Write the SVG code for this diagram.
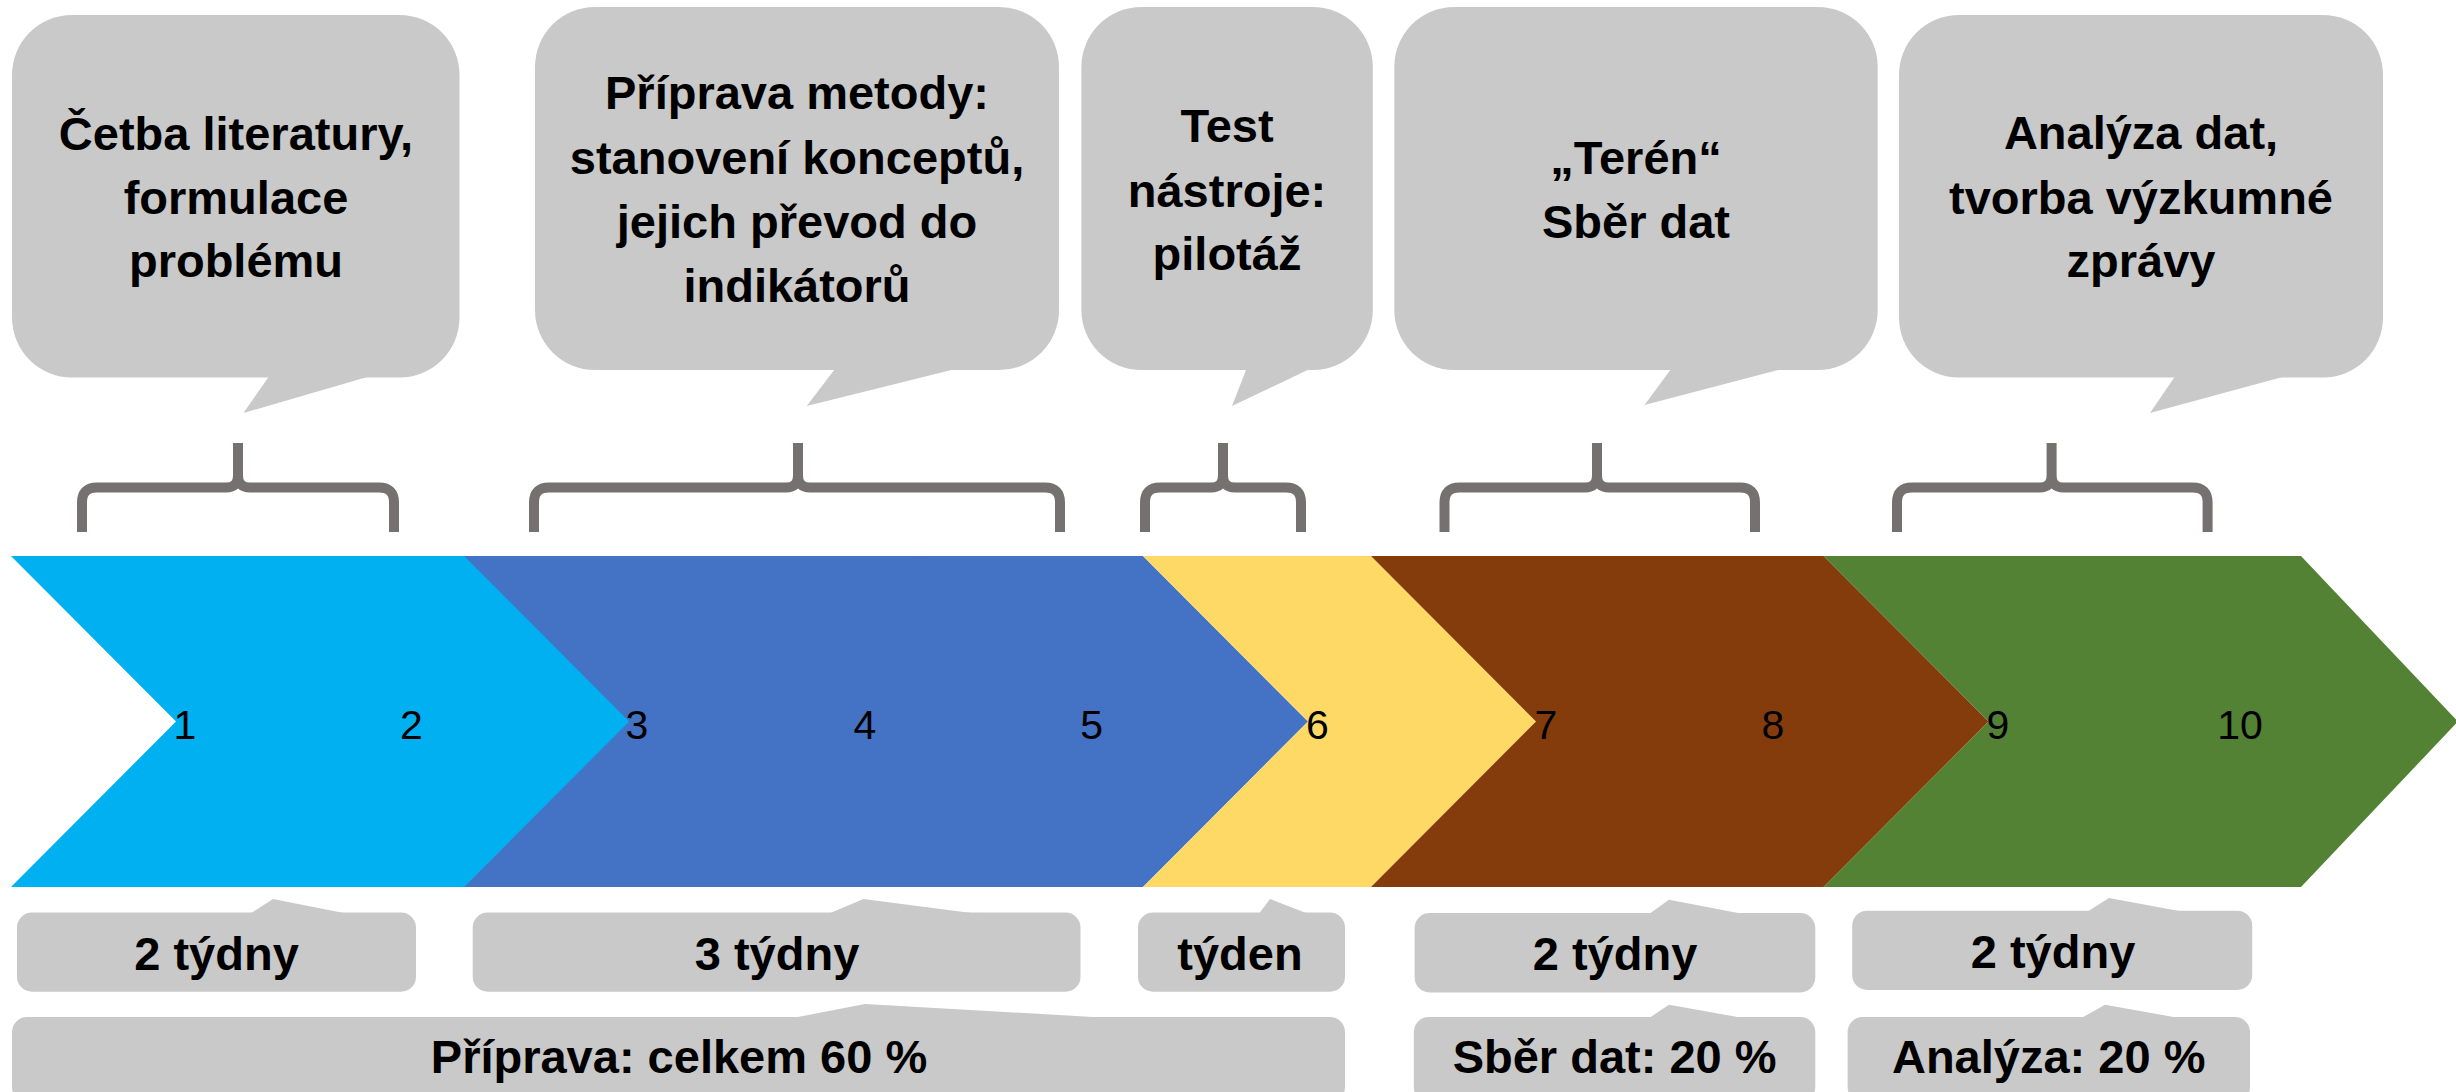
<svg xmlns="http://www.w3.org/2000/svg" width="2456" height="1092" viewBox="0 0 2456 1092">
<style>
.bub{fill:#C9C9C9}
.lbl{font-family:"Liberation Sans",Arial,sans-serif;font-weight:bold;font-size:47px;fill:#000;text-anchor:middle}
.num{font-family:"Liberation Sans",Arial,sans-serif;font-size:41px;fill:#000;text-anchor:middle}
.brace{fill:none;stroke:#767171;stroke-width:10;stroke-linejoin:round}
.c1{fill:#00B0F0}.c2{fill:#4472C4}.c3{fill:#FFD966}.c4{fill:#843C0C}.c5{fill:#548235}
</style>
<rect width="2456" height="1092" fill="#FFFFFF"/>

<!-- top bubbles -->
<g id="bubble1">
<rect class="bub" x="12" y="15" width="447.5" height="362.5" rx="60" ry="60"/>
<polygon class="bub" points="272,372 243.4,413 384.4,372"/>
<text class="lbl" x="236" y="150">Četba literatury,</text>
<text class="lbl" x="236" y="213.5">formulace</text>
<text class="lbl" x="236" y="277">problému</text>
</g>
<g id="bubble2">
<rect class="bub" x="535" y="7" width="524" height="363" rx="60" ry="60"/>
<polygon class="bub" points="838,365 806.7,406 971.6,365"/>
<text class="lbl" x="797" y="109">Příprava metody:</text>
<text class="lbl" x="797" y="174">stanovení konceptů,</text>
<text class="lbl" x="797" y="237.5">jejich převod do</text>
<text class="lbl" x="797" y="302">indikátorů</text>
</g>
<g id="bubble3">
<rect class="bub" x="1081.4" y="7" width="291.4" height="363" rx="60" ry="60"/>
<polygon class="bub" points="1248,365 1232,406 1318,365"/>
<text class="lbl" x="1227" y="142">Test</text>
<text class="lbl" x="1227" y="206.5">nástroje:</text>
<text class="lbl" x="1227" y="270">pilotáž</text>
</g>
<g id="bubble4">
<rect class="bub" x="1394.3" y="7" width="483.4" height="363" rx="60" ry="60"/>
<polygon class="bub" points="1674,365 1644.5,405 1797,365"/>
<text class="lbl" x="1636" y="174">„Terén“</text>
<text class="lbl" x="1636" y="237.5">Sběr dat</text>
</g>
<g id="bubble5">
<rect class="bub" x="1899" y="15" width="484" height="362.5" rx="60" ry="60"/>
<polygon class="bub" points="2178,372 2150,413 2301,372"/>
<text class="lbl" x="2141" y="149">Analýza dat,</text>
<text class="lbl" x="2141" y="213.5">tvorba výzkumné</text>
<text class="lbl" x="2141" y="277">zprávy</text>
</g>

<!-- braces -->
<g id="braces">
<path class="brace" d="M82 532 V502.5 Q82 487.5 97 487.5 H226 Q238 487.5 238 475.5 V443 M238 475.5 Q238 487.5 250 487.5 H379 Q394 487.5 394 502.5 V532"/>
<path class="brace" d="M534 532 V502.5 Q534 487.5 549 487.5 H786 Q798 487.5 798 475.5 V443 M798 475.5 Q798 487.5 810 487.5 H1045 Q1060 487.5 1060 502.5 V532"/>
<path class="brace" d="M1145 532 V502.5 Q1145 487.5 1160 487.5 H1211 Q1223 487.5 1223 475.5 V443 M1223 475.5 Q1223 487.5 1235 487.5 H1286 Q1301 487.5 1301 502.5 V532"/>
<path class="brace" d="M1444.5 532 V502.5 Q1444.5 487.5 1459.5 487.5 H1585 Q1597 487.5 1597 475.5 V443 M1597 475.5 Q1597 487.5 1609 487.5 H1740 Q1755 487.5 1755 502.5 V532"/>
<path class="brace" d="M1897 532 V502.5 Q1897 487.5 1912 487.5 H2039.6 Q2051.6 487.5 2051.6 475.5 V443 M2051.6 475.5 Q2051.6 487.5 2063.6 487.5 H2192.6 Q2207.6 487.5 2207.6 502.5 V532"/>
</g>

<!-- chevrons (each extends slightly under the next one to avoid seams) -->
<g id="chevron1"><polygon class="c1" points="11,556 242,556 407,721.5 242,887 11,887 176,721.5"/><text class="num" x="185" y="738.5">1</text></g>
<g id="chevron2"><polygon class="c1" points="237.6,556 468,556 633,721.5 468,887 237.6,887 402.6,721.5"/><text class="num" x="411.5" y="738.5">2</text></g>
<g id="chevron3"><polygon class="c2" points="464.2,556 695,556 860,721.5 695,887 464.2,887 629.2,721.5"/><text class="num" x="637" y="738.5">3</text></g>
<g id="chevron4"><polygon class="c2" points="690.8,556 921,556 1086,721.5 921,887 690.8,887 855.8,721.5"/><text class="num" x="865" y="738.5">4</text></g>
<g id="chevron5"><polygon class="c2" points="917.4,556 1143,556 1308,721.5 1143,887 917.4,887 1082.4,721.5"/><text class="num" x="1091.7" y="738.5">5</text></g>
<g id="chevron6"><polygon class="c3" points="1143,556 1371,556 1536,721.5 1371,887 1143,887 1308,721.5"/><text class="num" x="1317.5" y="738.5">6</text></g>
<g id="chevron7"><polygon class="c4" points="1371,556 1601,556 1766,721.5 1601,887 1371,887 1536,721.5"/><text class="num" x="1546" y="738.5">7</text></g>
<g id="chevron8"><polygon class="c4" points="1597.4,556 1823.6,556 1988.6,721.5 1823.6,887 1597.4,887 1762.4,721.5"/><text class="num" x="1773" y="738.5">8</text></g>
<g id="chevron9"><polygon class="c5" points="1823.6,556 2054,556 2219,721.5 2054,887 1823.6,887 1988.6,721.5"/><text class="num" x="1998" y="738.5">9</text></g>
<g id="chevron10"><polygon class="c5" points="2050.4,556 2301,556 2458,721.5 2301,887 2050.4,887 2215.4,721.5"/><text class="num" x="2240" y="738.5">10</text></g>

<!-- lower callouts -->
<g id="dur1">
<rect class="bub" x="17" y="912.5" width="399" height="79.2" rx="15"/>
<polygon class="bub" points="249.7,914 273,899 348.7,914"/>
<text class="lbl" x="216.5" y="969.5">2 týdny</text>
</g>
<g id="dur2">
<rect class="bub" x="472.7" y="912.5" width="607.8" height="79.2" rx="15"/>
<polygon class="bub" points="828,914 863.5,899 979,914"/>
<text class="lbl" x="777" y="969.5">3 týdny</text>
</g>
<g id="dur3">
<rect class="bub" x="1138" y="912.5" width="207" height="79.2" rx="15"/>
<polygon class="bub" points="1258.7,914 1270,899 1308.6,914"/>
<text class="lbl" x="1240" y="969.5">týden</text>
</g>
<g id="dur4">
<rect class="bub" x="1414.6" y="913" width="400.7" height="79.4" rx="15"/>
<polygon class="bub" points="1648.4,914.5 1669,899.8 1746,914.5"/>
<text class="lbl" x="1615" y="969.5">2 týdny</text>
</g>
<g id="dur5">
<rect class="bub" x="1852.2" y="910.7" width="400" height="79.3" rx="15"/>
<polygon class="bub" points="2086.8,912 2109,898 2184.5,912"/>
<text class="lbl" x="2053" y="968">2 týdny</text>
</g>
<g id="share1">
<rect class="bub" x="12" y="1017" width="1333" height="85" rx="15"/>
<polygon class="bub" points="790,1018.5 865,1004 1119,1018.5"/>
<text class="lbl" x="679" y="1073">Příprava: celkem 60 %</text>
</g>
<g id="share2">
<rect class="bub" x="1413.8" y="1017" width="401.5" height="85" rx="15"/>
<polygon class="bub" points="1648.4,1018.5 1669,1004.7 1746,1018.5"/>
<text class="lbl" x="1614.6" y="1073">Sběr dat: 20 %</text>
</g>
<g id="share3">
<rect class="bub" x="1847.6" y="1017" width="402.4" height="85" rx="15"/>
<polygon class="bub" points="2080.6,1018.5 2105,1004.7 2182,1018.5"/>
<text class="lbl" x="2048.7" y="1073">Analýza: 20 %</text>
</g>
</svg>
